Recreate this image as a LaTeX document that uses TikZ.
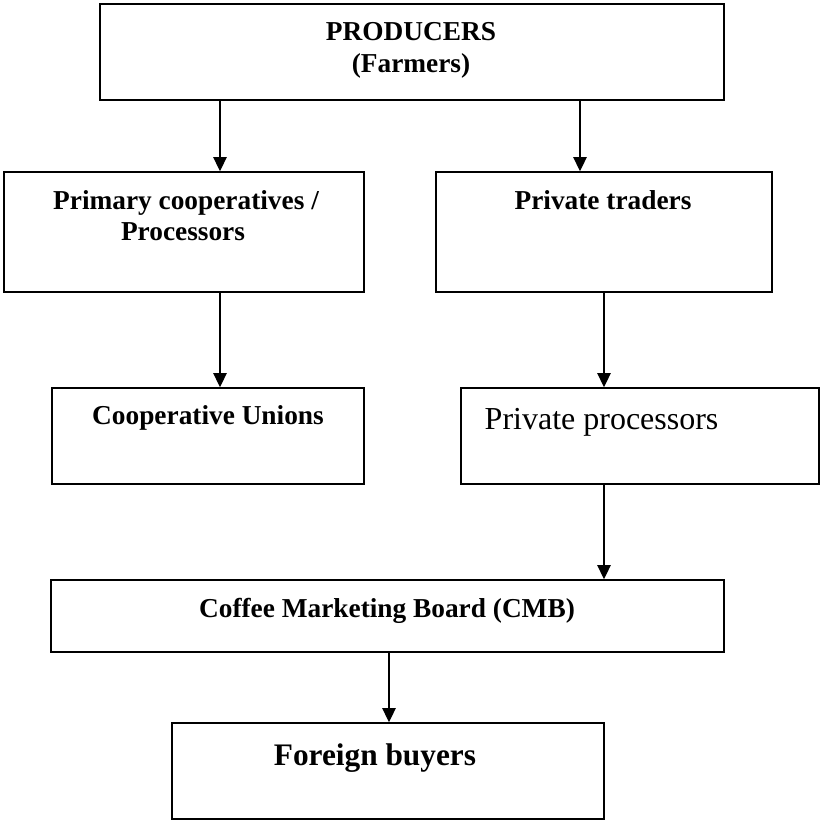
\documentclass[tikz,border=0pt]{standalone}
\usepackage{fontspec}
\setmainfont{Liberation Serif}
\usetikzlibrary{arrows.meta}

\begin{document}
\begin{tikzpicture}[x=0.75pt, y=-0.75pt,
    box/.style={draw, line width=1.2pt, inner sep=0pt},
    lbl/.style={anchor=base, font=\fontsize{20.5}{24}\selectfont\bfseries},
    arr/.style={-{Triangle[length=10.5pt, width=10pt]}, line width=1pt}]
    \useasboundingbox (0,0) rectangle (820,820);

    % Boxes
    \node [box, minimum width=468pt, minimum height=72pt] (prod) at (412,52) {};
    \node [box, minimum width=270pt, minimum height=90pt] (prim) at (184,232) {};
    \node [box, minimum width=252pt, minimum height=90pt] (trad) at (604,232) {};
    \node [box, minimum width=234pt, minimum height=72pt] (coop) at (208,436) {};
    \node [box, minimum width=268.5pt, minimum height=72pt] (proc) at (640,436) {};
    \node [box, minimum width=504.75pt, minimum height=54pt] (cmb) at (387.5,616) {};
    \node [box, minimum width=324pt, minimum height=72pt] (buyer) at (388,771) {};

    % Labels
    \node [lbl] (prodA) at (411,41) {PRODUCERS};
    \node [lbl] (prodB) at (411,73) {(Farmers)};
    \node [lbl] (primA) at (186,209) {Primary cooperatives /};
    \node [lbl] (primB) at (183,240) {Processors};
    \node [lbl] (tradA) at (603,209) {Private traders};
    \node [lbl] (coopA) at (208,424) {Cooperative Unions};
    \node [anchor=base west, font=\fontsize{24}{28}\selectfont] (procA) at (480,429) {Private processors};
    \node [lbl] (cmbA) at (387,617) {Coffee Marketing Board (CMB)};
    \node [lbl, font=\fontsize{23.5}{28}\selectfont\bfseries] (buyerA) at (375,765) {Foreign buyers};

    % Arrows
    \coordinate (colA) at (220,0);
    \coordinate (colB) at (580,0);
    \coordinate (colC) at (604,0);
    \coordinate (colD) at (389,0);
    \draw [arr] (prod.south -| colA) -- (prim.north -| colA);
    \draw [arr] (prod.south -| colB) -- (trad.north -| colB);
    \draw [arr] (prim.south -| colA) -- (coop.north -| colA);
    \draw [arr] (trad.south -| colC) -- (proc.north -| colC);
    \draw [arr] (proc.south -| colC) -- (cmb.north -| colC);
    \draw [arr] (cmb.south -| colD) -- (buyer.north -| colD);
\end{tikzpicture}
\end{document}
